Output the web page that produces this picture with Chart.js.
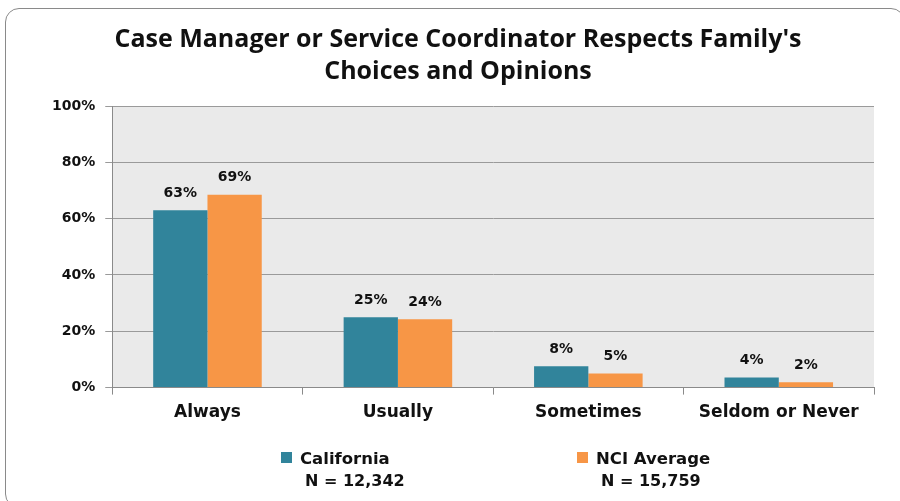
<!DOCTYPE html>
<html>
<head>
<meta charset="utf-8">
<script src="https://cdn.jsdelivr.net/npm/chart.js@4"></script>
<style>
  body { margin: 0; background: #fff; }
  .wrap { position: relative; width: 900px; height: 501px; overflow: hidden; }
  .frame { position: absolute; left: 5px; top: 8px; width: 900px; height: 500px;
           border: 1.5px solid #8a8a8a; border-radius: 14px; box-sizing: border-box; }
  canvas { position: absolute; left: 0; top: 0; }
  .legend { position: absolute; top: 449px; font: bold 16.5px "DejaVu Sans", sans-serif; color: #111; }
  .legend .sw { display: inline-block; width: 11px; height: 11px; margin-right: 8px; vertical-align: 1px; }
  .legend .n { margin-left: 24px; margin-top: 3px; font-size: 16px; }
</style>
</head>
<body>
<div class="wrap">
  <div class="frame"></div>
  <canvas id="chart" width="900" height="501"></canvas>
  <div class="legend" style="left:281px"><span class="sw" style="background:#31849B"></span>California<div class="n">N = 12,342</div></div>
  <div class="legend" style="left:577px"><span class="sw" style="background:#F79646"></span>NCI Average<div class="n">N = 15,759</div></div>
</div>
<script>
// chart values
const categories = ['Always', 'Usually', 'Sometimes', 'Seldom or Never'];
const california = [63, 25, 7.6, 3.6];
const nciAverage = [68.5, 24.3, 5, 1.9];
const yTicks = [0, 20, 40, 60, 80, 100];

// grey plot background
const plotBg = {
  id: 'plotBg',
  beforeDraw(chart) {
    const { ctx, chartArea: a } = chart;
    ctx.save();
    ctx.fillStyle = '#EAEAEA';
    ctx.fillRect(a.left, a.top, a.right - a.left, a.bottom - a.top);
    ctx.restore();
  }
};

// percent labels above bars
const barLabels = {
  id: 'barLabels',
  afterDatasetsDraw(chart) {
    const ctx = chart.ctx;
    ctx.save();
    ctx.font = 'bold 14px "DejaVu Sans", sans-serif';
    ctx.fillStyle = '#111';
    ctx.textAlign = 'center';
    ctx.textBaseline = 'bottom';
    chart.data.datasets.forEach((ds, i) => {
      chart.getDatasetMeta(i).data.forEach((bar, j) => {
        ctx.fillText(Math.round(ds.data[j]) + '%', bar.x, bar.y - 10);
      });
    });
    ctx.restore();
  }
};

new Chart(document.getElementById('chart').getContext('2d'), {
  type: 'bar',
  data: {
    labels: categories,
    datasets: [
      { label: 'California', data: california, backgroundColor: '#31849B' },
      { label: 'NCI Average', data: nciAverage, backgroundColor: '#F79646' }
    ]
  },
  options: {
    responsive: false,
    animation: false,
    datasets: { bar: { barPercentage: 1, categoryPercentage: 0.57 } },
    layout: { padding: { left: 42, right: 26, top: 10, bottom: 70 } },
    scales: {
      y: {
        min: 0,
        max: 100,
        afterBuildTicks: (axis) => { axis.ticks = yTicks.map((v) => ({ value: v })); },
        ticks: {
          callback: (v) => v + '%',
          color: '#111',
          font: { family: 'DejaVu Sans', size: 14, weight: 'bold' },
          padding: 10
        },
        grid: { color: '#9a9a9a', tickLength: 7 },
        border: { color: '#8a8a8a' }
      },
      x: {
        ticks: {
          color: '#111',
          font: { family: 'DejaVu Sans', size: 17, weight: 'bold' },
          padding: 8
        },
        grid: { offset: true, drawOnChartArea: false, color: '#8a8a8a', tickLength: 7 },
        border: { color: '#8a8a8a' }
      }
    },
    plugins: {
      legend: { display: false },
      tooltip: { enabled: false },
      title: {
        display: true,
        text: ["Case Manager or Service Coordinator Respects Family's", 'Choices and Opinions'],
        color: '#111',
        font: { family: 'Open Sans', size: 25, weight: 'bold', lineHeight: 1.28 },
        padding: { top: 14, bottom: 18 }
      }
    }
  },
  plugins: [plotBg, barLabels]
});
</script>
</body>
</html>
